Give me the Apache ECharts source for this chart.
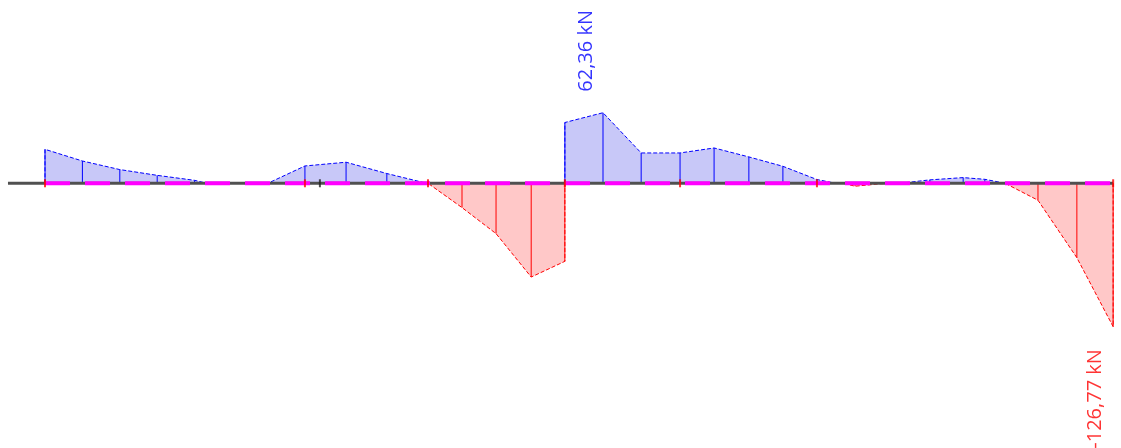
<!DOCTYPE html>
<html><head><meta charset="utf-8">
<script src="https://cdn.jsdelivr.net/npm/echarts@6/dist/echarts.min.js"></script>
<style>html,body{margin:0;padding:0;background:#fff}#c{width:1121px;height:448px}</style>
</head><body><div id="c"></div>
<script>
// Shear force diagram along the beam (station in m, shear in kN)
const stations = [0, 0, 1.0, 2.0, 3.0, 4.0, 4.33, 5.96, 6.95, 8.05, 9.14, 10.08, 10.24, 11.15, 12.06, 13.0, 13.9, 13.9, 14.92, 15.94, 16.98, 17.89, 18.82, 19.73, 20.64, 21.07, 21.34, 21.66, 22.33, 22.86, 23.66, 24.55, 25.13, 25.67, 26.55, 27.59, 28.56, 28.56];
const shear    = [0, 30.0, 19.7, 12.1, 7.0, 2.6, 0, 0, 15.3, 18.6, 8.6, 1.0, 0, -21.5, -44.5, -82.9, -69.0, 53.7, 62.36, 26.8, 26.8, 31.2, 23.3, 15.0, 3.3, 0.5, 0, -2.6, -0.5, 0, 3.0, 5.0, 3.5, 0, -15.0, -65.8, -126.77, 0];
const beamStart = 0, beamEnd = 28.56, axisStart = -0.99;
const supportsRed = [0, 6.95, 10.24, 13.9, 16.98, 20.64, 28.56];
const supportsBlack = [7.35];
const maxPoint = [14.92, 62.36], maxLabel = '62,36 kN';
const minPoint = [28.56, -126.77], minLabel = '-126,77 kN';

const pts = stations.map((x, i) => [x, shear[i]]);
const posData = pts.map(([x, v]) => [x, Math.max(v, 0)]);
const negData = pts.map(([x, v]) => [x, Math.min(v, 0)]);
const posOrd = pts.filter(([x, v]) => v > 0);
const negOrd = pts.filter(([x, v]) => v < 0);

const BLUE = '#0000ff', RED = '#ff0000';
const FONT = 'Open Sans, Noto Sans, Liberation Sans, sans-serif';
const vert = (color) => (params, api) => {
  const a = api.coord([api.value(0), 0]);
  const b = api.coord([api.value(0), api.value(1)]);
  return {type: 'line', shape: {x1: a[0], y1: a[1], x2: b[0], y2: b[1]}, style: {stroke: color, lineWidth: 1}};
};

const chart = echarts.init(document.getElementById('c'), null, {renderer: 'canvas'});
chart.setOption({
  animation: false,
  backgroundColor: '#fff',
  grid: {left: 0, right: 0, top: 0, bottom: 0},
  xAxis: {type: 'value', min: -1.2032, max: 28.770, show: false},
  yAxis: {type: 'value', min: -234, max: 162, show: false},
  series: [
    {type: 'line', data: posData, symbol: 'none', z: 2,
     lineStyle: {color: BLUE, width: 1, type: [4, 2]},
     areaStyle: {color: '#c8c8f8', opacity: 1, origin: 0}},
    {type: 'line', data: negData, symbol: 'none', z: 2,
     lineStyle: {color: RED, width: 1, type: [4, 2]},
     areaStyle: {color: '#ffc8c8', opacity: 1, origin: 0}},
    {type: 'custom', data: posOrd, renderItem: vert(BLUE), z: 3},
    {type: 'custom', data: negOrd, renderItem: vert(RED), z: 3},
    {type: 'line', data: [[axisStart, 0], [beamEnd, 0]], symbol: 'none', z: 4,
     lineStyle: {color: '#505050', width: 3}},
    {type: 'line', data: [[beamStart, 0], [beamEnd, 0]], symbol: 'none', z: 5,
     lineStyle: {color: '#ff00ff', width: 4, type: [25, 15]}},
    {type: 'scatter', data: supportsRed.map(x => [x, 0]), symbol: 'rect', symbolSize: [2, 8], z: 6,
     itemStyle: {color: RED}},
    {type: 'scatter', data: supportsBlack.map(x => [x, 0]), symbol: 'rect', symbolSize: [2, 8], z: 6,
     itemStyle: {color: '#202020'}},
    {type: 'scatter', data: [maxPoint], symbolSize: 0, z: 7,
     label: {show: true, formatter: maxLabel, position: 'inside', rotate: 90, align: 'left', verticalAlign: 'middle',
             offset: [21, -17], color: BLUE, fontSize: 20, fontFamily: FONT}},
    {type: 'scatter', data: [minPoint], symbolSize: 0, z: 7,
     label: {show: true, formatter: minLabel, position: 'inside', rotate: 90, align: 'left', verticalAlign: 'middle',
             offset: [-122, -18], color: RED, fontSize: 20, fontFamily: FONT}}
  ]
});
</script></body></html>
